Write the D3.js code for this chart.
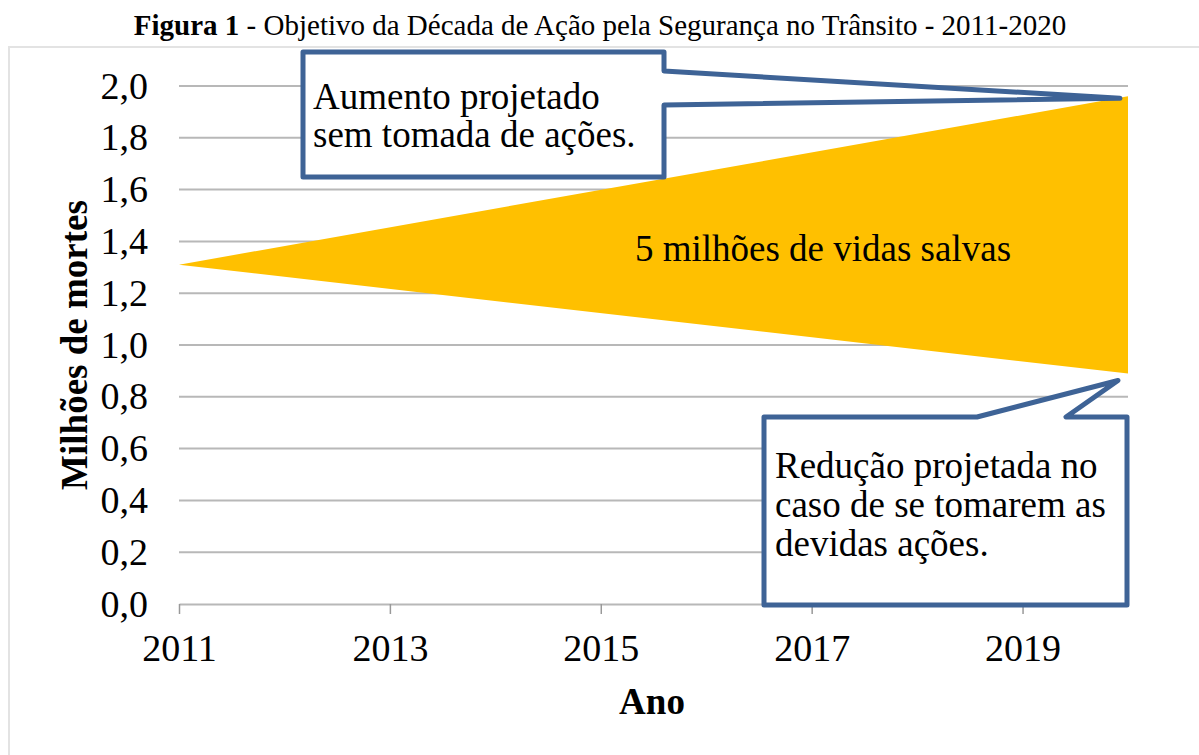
<!DOCTYPE html>
<html>
<head>
<meta charset="utf-8">
<script src="https://cdn.jsdelivr.net/npm/d3@7"></script>
<style>
    body { margin: 0; background: #fff; }
</style>
</head>
<body>
<div id="chart"></div>
<script>
(function () {
    // dados
    let anos = [2011, 2020];
    let semAcao = [1.31, 1.96];    // aumento projetado
    let comAcao = [1.31, 0.89];    // redução projetada
    let yTicks = [0, 0.2, 0.4, 0.6, 0.8, 1.0, 1.2, 1.4, 1.6, 1.8, 2.0];
    let xTicks = [2011, 2013, 2015, 2017, 2019];
    let balao1 = ['Aumento projetado', 'sem tomada de ações.'];
    let balao2 = ['Redução projetada no', 'caso de se tomarem as', 'devidas ações.'];

    let serif = '"Liberation Serif", "Times New Roman", serif';
    let width = 1199, height = 755;
    let svg = d3.select('#chart')
        .append('svg')
        .attr('width', width)
        .attr('height', height)
        .style('font-family', serif);

    // título
    let titulo = svg.append('text')
        .attr('x', 600)
        .attr('y', 35)
        .attr('text-anchor', 'middle')
        .style('font-family', serif)
        .style('font-size', '29px');
    titulo.append('tspan').style('font-weight', 'bold').text('Figura 1');
    titulo.append('tspan').text(' - Objetivo da Década de Ação pela Segurança no Trânsito - 2011-2020');

    // moldura do gráfico (continua além da borda direita e de baixo)
    svg.append('rect')
        .attr('x', 9).attr('y', 47)
        .attr('width', 1220).attr('height', 740)
        .attr('fill', 'none')
        .attr('stroke', '#e3e3e3')
        .attr('stroke-width', 2);

    let x = d3.scaleLinear().domain([2011, 2020]).range([179, 1128]);
    let y = d3.scaleLinear().domain([0, 2]).range([604, 86]);

    // linhas de grade
    svg.append('g')
        .selectAll('line')
        .data(yTicks.slice(1))
        .enter()
        .append('line')
        .attr('x1', x(2011))
        .attr('x2', x(2020))
        .attr('y1', function (d) { return y(d); })
        .attr('y2', function (d) { return y(d); })
        .attr('stroke', '#b8b8b8')
        .attr('stroke-width', 2);

    // eixo y (só os rótulos)
    let axisY = d3.axisLeft(y)
        .tickValues(yTicks)
        .tickSize(0)
        .tickPadding(31)
        .tickFormat(function (d) { return d3.format('.1f')(d).replace('.', ','); });
    let gy = svg.append('g')
        .attr('transform', 'translate(' + x(2011) + ',0)')
        .call(axisY);
    gy.select('.domain').remove();
    gy.selectAll('text')
        .style('font-family', serif)
        .style('font-size', '38px')
        .attr('fill', '#000');

    // eixo x
    let axisX = d3.axisBottom(x)
        .tickValues(xTicks)
        .tickSize(10)
        .tickSizeOuter(0)
        .tickPadding(20)
        .tickFormat(d3.format('d'));
    let gx = svg.append('g')
        .attr('transform', 'translate(0,' + y(0) + ')')
        .call(axisX);
    gx.select('.domain').attr('stroke', '#b8b8b8').attr('stroke-width', 2);
    gx.selectAll('.tick line').attr('stroke', '#999').attr('stroke-width', 1.5);
    gx.selectAll('text')
        .style('font-family', serif)
        .style('font-size', '38px')
        .attr('fill', '#000');

    // área: vidas salvas
    let area = d3.area()
        .x(function (d, i) { return x(anos[i]); })
        .y0(function (d, i) { return y(comAcao[i]); })
        .y1(function (d, i) { return y(semAcao[i]); });
    svg.append('path')
        .datum(anos)
        .attr('d', area)
        .attr('fill', '#ffc000');

    svg.append('text')
        .attr('x', 823)
        .attr('y', 261)
        .attr('text-anchor', 'middle')
        .style('font-family', serif)
        .style('font-size', '37px')
        .text('5 milhões de vidas salvas');

    // títulos dos eixos
    svg.append('text')
        .attr('x', 652)
        .attr('y', 714)
        .attr('text-anchor', 'middle')
        .style('font-family', serif)
        .style('font-size', '37px')
        .style('font-weight', 'bold')
        .text('Ano');

    svg.append('text')
        .attr('transform', 'translate(87,345) rotate(-90)')
        .attr('text-anchor', 'middle')
        .style('font-family', serif)
        .style('font-size', '37px')
        .style('font-weight', 'bold')
        .text('Milhões de mortes');

    // balões
    let azul = '#3e6396';
    let ponta1 = [x(2020) - 8, y(semAcao[1]) + 2];
    let b1 = { x0: 303, y0: 52, x1: 664, y1: 177 };
    let p1 = [b1.x0, b1.y0, b1.x1, b1.y0, b1.x1, 71, ponta1[0], ponta1[1], b1.x1, 105, b1.x1, b1.y1, b1.x0, b1.y1];
    svg.append('path')
        .attr('d', 'M' + d3.range(0, p1.length, 2).map(function (i) { return p1[i] + ',' + p1[i + 1]; }).join('L') + 'Z')
        .attr('fill', '#fff')
        .attr('stroke', azul)
        .attr('stroke-width', 5)
        .attr('stroke-linejoin', 'round');
    svg.append('g')
        .selectAll('text')
        .data(balao1)
        .enter()
        .append('text')
        .attr('x', 313)
        .attr('y', function (d, i) { return 109 + i * 38; })
        .style('font-family', serif)
        .style('font-size', '37px')
        .text(function (d) { return d; });

    let ponta2 = [x(2020) - 10, y(comAcao[1]) + 7];
    let b2 = { x0: 764, y0: 417, x1: 1127, y1: 605 };
    let p2 = [b2.x0, b2.y0, 977, b2.y0, ponta2[0], ponta2[1], 1066, b2.y0, b2.x1, b2.y0, b2.x1, b2.y1, b2.x0, b2.y1];
    svg.append('path')
        .attr('d', 'M' + d3.range(0, p2.length, 2).map(function (i) { return p2[i] + ',' + p2[i + 1]; }).join('L') + 'Z')
        .attr('fill', '#fff')
        .attr('stroke', azul)
        .attr('stroke-width', 5)
        .attr('stroke-linejoin', 'round');
    svg.append('g')
        .selectAll('text')
        .data(balao2)
        .enter()
        .append('text')
        .attr('x', 775)
        .attr('y', function (d, i) { return 478 + i * 39; })
        .style('font-family', serif)
        .style('font-size', '37px')
        .text(function (d) { return d; });
})();
</script>
</body>
</html>
